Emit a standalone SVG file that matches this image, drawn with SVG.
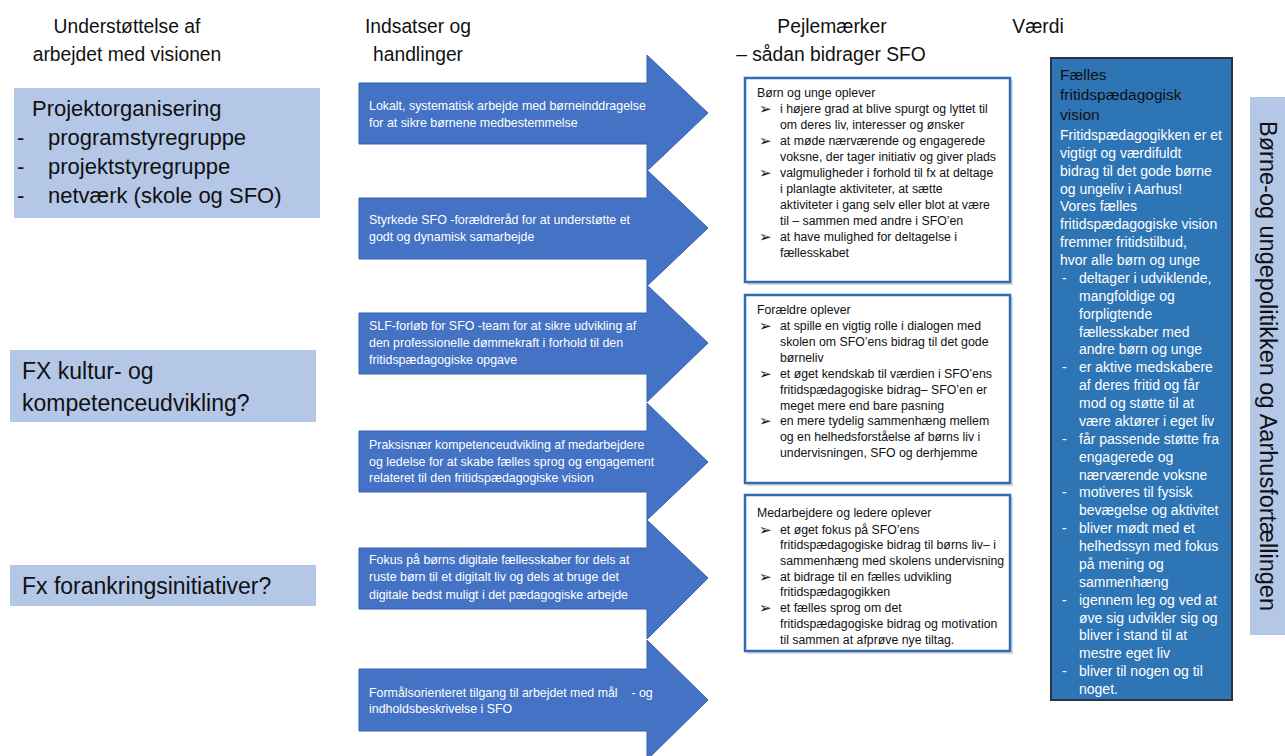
<svg xmlns="http://www.w3.org/2000/svg" width="1285" height="756" viewBox="0 0 1285 756">
<style>
text{font-family:"Liberation Sans",Arial,sans-serif}
.hdr{font-size:19.3px;fill:#111;text-anchor:middle}
.lb{fill:#B4C7E7}
.lt{font-size:22px;fill:#111}
.lt2{font-size:23px;fill:#111}
.arr{fill:#4472C4;stroke:#3A62AE;stroke-width:1}
.at{font-size:12.4px;fill:#fff}
.mb{fill:#fff;stroke:#2F6DB5;stroke-width:2.5}
.sh{fill:#d9d9d9}
.mt{font-size:12.3px;fill:#111}
.bu{font-family:"DejaVu Sans",sans-serif;font-size:15px;fill:#111}
.rb{fill:#2E75B6;stroke:#2A3440;stroke-width:2}
.rt{font-size:15.5px;fill:#111}
.rw{font-size:14px;fill:#fff}
.vt{font-size:23.5px;fill:#111;text-anchor:middle}
</style>
<rect width="1285" height="756" fill="#fff"/>

<g id="headers">
<text class="hdr" x="127" y="33">Understøttelse af</text>
<text class="hdr" x="127" y="61">arbejdet med visionen</text>
<text class="hdr" x="418" y="33">Indsatser og</text>
<text class="hdr" x="418" y="61">handlinger</text>
<text class="hdr" x="832" y="33">Pejlemærker</text>
<text class="hdr" x="831" y="61">– sådan bidrager SFO</text>
<text class="hdr" x="1038" y="33">Værdi</text>
</g>

<g id="support-projektorganisering">
<rect class="lb" x="14" y="88" width="306" height="130"/>
<text class="lt" x="32" y="116">Projektorganisering</text>
<text class="lt" x="17" y="145">-</text><text class="lt" x="48" y="145">programstyregruppe</text>
<text class="lt" x="17" y="174">-</text><text class="lt" x="48" y="174">projektstyregruppe</text>
<text class="lt" x="17" y="203">-</text><text class="lt" x="48" y="203">netværk (skole og SFO)</text>
</g>

<g id="support-kultur">
<rect class="lb" x="10" y="350" width="306" height="72"/>
<text class="lt2" x="22" y="379">FX kultur- og</text>
<text class="lt2" x="22" y="411">kompetenceudvikling?</text>
</g>

<g id="support-forankring">
<rect class="lb" x="10" y="565" width="306" height="41"/>
<text class="lt2" x="22" y="594">Fx forankringsinitiativer?</text>
</g>

<g id="action-1">
<path class="arr" d="M359,83 H647 V55 L708,113 L647,171 V144 H359 Z"/>
<text class="at" x="369" y="110">Lokalt, systematisk arbejde med børneinddragelse</text>
<text class="at" x="369" y="127">for at sikre børnene medbestemmelse</text>
</g>
<g id="action-2">
<path class="arr" d="M359,198 H647 V170 L708,228 L647,286 V259 H359 Z"/>
<text class="at" x="369" y="224">Styrkede SFO -forældreråd for at understøtte et</text>
<text class="at" x="369" y="241">godt og dynamisk samarbejde</text>
</g>
<g id="action-3">
<path class="arr" d="M359,313 H647 V285 L708,343 L647,402 V374 H359 Z"/>
<text class="at" x="369" y="330">SLF-forløb for SFO -team for at sikre udvikling af</text>
<text class="at" x="369" y="347">den professionelle dømmekraft i forhold til den</text>
<text class="at" x="369" y="364">fritidspædagogiske opgave</text>
</g>
<g id="action-4">
<path class="arr" d="M359,431 H647 V403 L708,462 L647,520 V492 H359 Z"/>
<text class="at" x="369" y="449">Praksisnær kompetenceudvikling af medarbejdere</text>
<text class="at" x="369" y="466">og ledelse for at skabe fælles sprog og engagement</text>
<text class="at" x="369" y="482">relateret til den fritidspædagogiske vision</text>
</g>
<g id="action-5">
<path class="arr" d="M359,548 H647 V520 L708,578 L647,639 V609 H359 Z"/>
<text class="at" x="369" y="564">Fokus på børns digitale fællesskaber for dels at</text>
<text class="at" x="369" y="581">ruste børn til et digitalt liv og dels at bruge det</text>
<text class="at" x="369" y="599">digitale bedst muligt i det pædagogiske arbejde</text>
</g>
<g id="action-6">
<path class="arr" d="M359,669 H647 V640 L708,700 L647,760 V731 H359 Z"/>
<text class="at" x="369" y="697" xml:space="preserve">Formålsorienteret tilgang til arbejdet med mål    - og</text>
<text class="at" x="369" y="713">indholdsbeskrivelse i SFO</text>
</g>

<g id="pejl-boern">
<rect class="sh" x="747" y="80" width="266" height="205"/>
<rect class="mb" x="745" y="78" width="265" height="204"/>
<text class="mt" x="757" y="97">Børn og unge oplever</text>
<text class="bu" x="759" y="114">➢</text><text class="mt" x="780" y="113">i højere grad at blive spurgt og lyttet til</text>
<text class="mt" x="780" y="129">om deres liv, interesser og ønsker</text>
<text class="bu" x="759" y="146">➢</text><text class="mt" x="780" y="145">at møde nærværende og engagerede</text>
<text class="mt" x="780" y="161">voksne, der tager initiativ og giver plads</text>
<text class="bu" x="759" y="178">➢</text><text class="mt" x="780" y="177">valgmuligheder i forhold til fx at deltage</text>
<text class="mt" x="780" y="193">i planlagte aktiviteter, at sætte</text>
<text class="mt" x="780" y="209">aktiviteter i gang selv eller blot at være</text>
<text class="mt" x="780" y="225">til – sammen med andre i SFO’en</text>
<text class="bu" x="759" y="242">➢</text><text class="mt" x="780" y="241">at have mulighed for deltagelse i</text>
<text class="mt" x="780" y="257">fællesskabet</text>
</g>

<g id="pejl-foraeldre">
<rect class="sh" x="747" y="297" width="266" height="189"/>
<rect class="mb" x="745" y="295" width="265" height="188"/>
<text class="mt" x="757" y="314">Forældre oplever</text>
<text class="bu" x="759" y="331">➢</text><text class="mt" x="780" y="330">at spille en vigtig rolle i dialogen med</text>
<text class="mt" x="780" y="346">skolen om SFO’ens bidrag til det gode</text>
<text class="mt" x="780" y="362">børneliv</text>
<text class="bu" x="759" y="379">➢</text><text class="mt" x="780" y="378">et øget kendskab til værdien i SFO’ens</text>
<text class="mt" x="780" y="394">fritidspædagogiske bidrag– SFO’en er</text>
<text class="mt" x="780" y="410">meget mere end bare pasning</text>
<text class="bu" x="759" y="426">➢</text><text class="mt" x="780" y="425">en mere tydelig sammenhæng mellem</text>
<text class="mt" x="780" y="441">og en helhedsforståelse af børns liv i</text>
<text class="mt" x="780" y="457">undervisningen, SFO og derhjemme</text>
</g>

<g id="pejl-medarbejdere">
<rect class="sh" x="747" y="497" width="266" height="157"/>
<rect class="mb" x="745" y="495" width="265" height="156"/>
<text class="mt" x="757" y="517">Medarbejdere og ledere oplever</text>
<text class="bu" x="759" y="535">➢</text><text class="mt" x="780" y="534">et øget fokus på SFO’ens</text>
<text class="mt" x="780" y="549">fritidspædagogiske bidrag til børns liv– i</text>
<text class="mt" x="780" y="565">sammenhæng med skolens undervisning</text>
<text class="bu" x="759" y="582">➢</text><text class="mt" x="780" y="581">at bidrage til en fælles udvikling</text>
<text class="mt" x="780" y="596">fritidspædagogikken</text>
<text class="bu" x="759" y="613">➢</text><text class="mt" x="780" y="612">et fælles sprog om det</text>
<text class="mt" x="780" y="628">fritidspædagogiske bidrag og motivation</text>
<text class="mt" x="780" y="644">til sammen at afprøve nye tiltag.</text>
</g>

<g id="vaerdi-vision">
<rect class="rb" x="1051" y="58" width="181" height="642"/>
<text class="rt" x="1060" y="80">Fælles</text>
<text class="rt" x="1060" y="100">fritidspædagogisk</text>
<text class="rt" x="1060" y="120">vision</text>
<g class="rw">
<text x="1060" y="140">Fritidspædagogikken er et</text>
<text x="1060" y="158">vigtigt og værdifuldt</text>
<text x="1060" y="176">bidrag til det gode børne</text>
<text x="1060" y="194">og ungeliv i Aarhus!</text>
<text x="1060" y="211">Vores fælles</text>
<text x="1060" y="229">fritidspædagogiske vision</text>
<text x="1060" y="247">fremmer fritidstilbud,</text>
<text x="1060" y="265">hvor alle børn og unge</text>
<text x="1062" y="283">-</text><text x="1079" y="283">deltager i udviklende,</text>
<text x="1079" y="301">mangfoldige og</text>
<text x="1079" y="319">forpligtende</text>
<text x="1079" y="337">fællesskaber med</text>
<text x="1079" y="354">andre børn og unge</text>
<text x="1062" y="372">-</text><text x="1079" y="372">er aktive medskabere</text>
<text x="1079" y="390">af deres fritid og får</text>
<text x="1079" y="408">mod og støtte til at</text>
<text x="1079" y="426">være aktører i eget liv</text>
<text x="1062" y="444">-</text><text x="1079" y="444">får passende støtte fra</text>
<text x="1079" y="462">engagerede og</text>
<text x="1079" y="480">nærværende voksne</text>
<text x="1062" y="497">-</text><text x="1079" y="497">motiveres til fysisk</text>
<text x="1079" y="515">bevægelse og aktivitet</text>
<text x="1062" y="533">-</text><text x="1079" y="533">bliver mødt med et</text>
<text x="1079" y="551">helhedssyn med fokus</text>
<text x="1079" y="569">på mening og</text>
<text x="1079" y="587">sammenhæng</text>
<text x="1062" y="605">-</text><text x="1079" y="605">igennem leg og ved at</text>
<text x="1079" y="623">øve sig udvikler sig og</text>
<text x="1079" y="640">bliver i stand til at</text>
<text x="1079" y="658">mestre eget liv</text>
<text x="1062" y="676">-</text><text x="1079" y="676">bliver til nogen og til</text>
<text x="1079" y="694">noget.</text>
</g>
</g>

<g id="politik">
<rect class="lb" x="1250" y="97" width="35" height="538"/>
<text class="vt" transform="translate(1268,366) rotate(90)" x="0" y="8">Børne-og ungepolitikken og Aarhusfortællingen</text>
</g>

<g id="connectors"/>
</svg>
